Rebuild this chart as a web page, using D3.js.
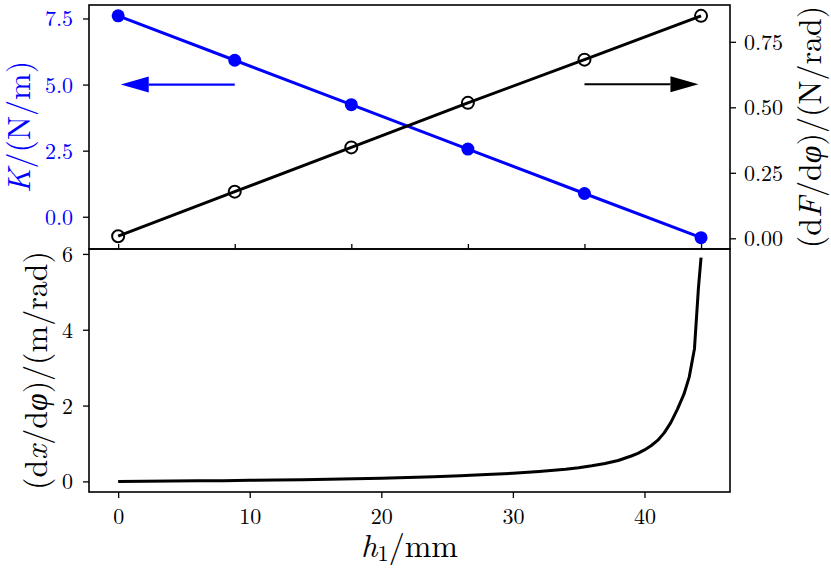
<!DOCTYPE html>
<html><head><meta charset="utf-8">
<script src="https://cdn.jsdelivr.net/npm/d3@7"></script>
<style>body{margin:0;background:#fff}svg{display:block}</style>
</head><body>
<svg id="c" width="831" height="573"></svg>
<script>
// ---- data ----
const hTop = [0, 8.86, 17.72, 26.58, 35.44, 44.3];
const kValues = [7.60, 5.92, 4.24, 2.56, 0.88, -0.79];
const dFdphi = [0.008, 0.178, 0.347, 0.517, 0.682, 0.849];
const hCurve = [0, 2, 4, 6, 8, 10, 12, 14, 16, 18, 20, 22, 24, 26, 28, 30, 32, 34, 35, 36, 37, 38, 38.5, 39, 39.5, 40, 40.5, 41, 41.5, 42, 42.5, 43, 43.4, 43.8, 44.1, 44.3];
const dxdphi = [0.00, 0.005, 0.01, 0.015, 0.02, 0.028, 0.036, 0.045, 0.055, 0.068, 0.085, 0.103, 0.125, 0.15, 0.18, 0.215, 0.26, 0.32, 0.36, 0.41, 0.47, 0.55, 0.61, 0.67, 0.74, 0.83, 0.94, 1.08, 1.28, 1.55, 1.9, 2.3, 2.75, 3.5, 5.1, 5.9];
const xTicks = [0, 10, 20, 30, 40];
const kTicks = [0.0, 2.5, 5.0, 7.5];
const fTicks = [0.00, 0.25, 0.50, 0.75];
const dxTicks = [0, 2, 4, 6];
const blueArrow = {from: 8.86, to: 0.2, k: 5.0};
const blackArrow = {from: 35.44, to: 44.1, f: 0.588};

const FONT = '"Latin Modern Roman","CMU Serif","Liberation Serif",serif';
const GREEK = '"Liberation Serif","DejaVu Serif",serif';
const BLUE = "#0000ff";
const svg = d3.select("#c");
const L = 89, R = 730, T1 = 5, B1 = 249, B2 = 492;

const x = d3.scaleLinear().domain([-2.215, 46.5]).range([L, R]);
const yK = d3.scaleLinear().domain([-1.22, 8.01]).range([B1, T1]);
const yF = d3.scaleLinear().domain([-0.0408, 0.8905]).range([B1, T1]);
const yD = d3.scaleLinear().domain([-0.28, 6.13]).range([B2, B1]);

function styleAxis(g, color) {
  g.attr("font-family", null).attr("font-size", null);
  g.select(".domain").remove();
  g.selectAll(".tick line").attr("stroke", "#000").attr("stroke-width", 1.3);
  g.selectAll(".tick text").attr("fill", color)
    .style("font-family", FONT).style("font-size", "22px");
}

// ---- top panel axes ----
const gK = svg.append("g").attr("transform", `translate(${L},0)`)
  .call(d3.axisLeft(yK).tickValues(kTicks).tickFormat(d3.format(".1f")).tickSize(6).tickPadding(10));
styleAxis(gK, BLUE);
gK.selectAll(".tick text").attr("dy", "0.34em");

const gF = svg.append("g").attr("transform", `translate(${R},0)`)
  .call(d3.axisRight(yF).tickValues(fTicks).tickFormat(d3.format(".2f")).tickSize(6).tickPadding(8));
styleAxis(gF, "#000");
gF.selectAll(".tick text").attr("dy", "0.34em");

const gTopX = svg.append("g").attr("transform", `translate(0,${B1})`)
  .call(d3.axisTop(x).tickValues(hTop).tickFormat("").tickSize(-5));
styleAxis(gTopX, "#000");
gTopX.selectAll(".tick line").attr("y2", -5);

// ---- bottom panel axes ----
const gD = svg.append("g").attr("transform", `translate(${L},0)`)
  .call(d3.axisLeft(yD).tickValues(dxTicks).tickFormat(d3.format("d")).tickSize(6).tickPadding(10));
styleAxis(gD, "#000");
gD.selectAll(".tick text").attr("dy", "0.34em");

const gX = svg.append("g").attr("transform", `translate(0,${B2})`)
  .call(d3.axisBottom(x).tickValues(xTicks).tickFormat(d3.format("d")).tickSize(6).tickPadding(10));
styleAxis(gX, "#000");
gX.selectAll(".tick text").attr("dy", "0.71em");

// ---- top panel marks ----
const lineK = d3.line().x((d, i) => x(hTop[i])).y(d => yK(d));
svg.append("path").attr("d", lineK(kValues)).attr("fill", "none").attr("stroke", BLUE).attr("stroke-width", 3);
svg.append("g").selectAll("circle").data(kValues).join("circle")
  .attr("cx", (d, i) => x(hTop[i])).attr("cy", d => yK(d)).attr("r", 6.5).attr("fill", BLUE);

function arrow(x0, x1, y, color) {
  const dir = Math.sign(x1 - x0), hl = 28, hw = 8;
  const xb = x1 - dir * hl;
  svg.append("line").attr("x1", x0).attr("x2", xb).attr("y1", y).attr("y2", y)
    .attr("stroke", color).attr("stroke-width", 2.2);
  svg.append("path").attr("d", `M${x1},${y}L${xb},${y - hw}L${xb},${y + hw}Z`).attr("fill", color);
}
arrow(x(blueArrow.from), x(blueArrow.to), yK(blueArrow.k), BLUE);

const lineF = d3.line().x((d, i) => x(hTop[i])).y(d => yF(d));
svg.append("path").attr("d", lineF(dFdphi)).attr("fill", "none").attr("stroke", "#000").attr("stroke-width", 3);
svg.append("g").selectAll("circle").data(dFdphi).join("circle")
  .attr("cx", (d, i) => x(hTop[i])).attr("cy", d => yF(d)).attr("r", 6)
  .attr("fill", "none").attr("stroke", "#000").attr("stroke-width", 2);
arrow(x(blackArrow.from), x(blackArrow.to), yF(blackArrow.f), "#000");

// ---- bottom curve ----
const lineD = d3.line().x((d, i) => x(hCurve[i])).y(d => yD(d));
svg.append("path").attr("d", lineD(dxdphi)).attr("fill", "none").attr("stroke", "#000")
  .attr("stroke-width", 3).attr("stroke-linejoin", "round");

// ---- frames ----
svg.append("rect").attr("x", L).attr("y", T1).attr("width", R - L).attr("height", B1 - T1)
  .attr("fill", "none").attr("stroke", "#000").attr("stroke-width", 1.6);
svg.append("rect").attr("x", L).attr("y", B1).attr("width", R - L).attr("height", B2 - B1)
  .attr("fill", "none").attr("stroke", "#000").attr("stroke-width", 1.6);

// ---- labels ----
function label(cx, cy, rot, parts, size, color) {
  const t = svg.append("text").attr("transform", `translate(${cx},${cy}) rotate(${rot})`)
    .attr("text-anchor", "middle").attr("fill", color)
    .style("font-family", FONT).style("font-size", size + "px");
  parts.forEach(p => {
    const s = t.append("tspan").text(p.t);
    if (p.i) s.style("font-style", "italic");
    if (p.g) s.style("font-family", GREEK);
    if (p.sub) s.style("font-size", (size * 0.7) + "px").attr("dy", "0.2em");
    if (p.up) s.attr("dy", "-0.14em");
  });
  return t;
}
label(30, (T1 + B1) / 2, -90, [{t: "K", i: 1}, {t: "/(N/m)"}], 32, BLUE);
label(821, (T1 + B1) / 2, -90, [{t: "(d"}, {t: "F", i: 1}, {t: "/d"}, {t: "φ", i: 1, g: 1}, {t: ")/(N/rad)"}], 32, "#000");
label(47, (B1 + B2) / 2, -90, [{t: "(d"}, {t: "x", i: 1}, {t: "/d"}, {t: "φ", i: 1, g: 1}, {t: ")/(m/rad)"}], 32, "#000");
label((L + R) / 2, 557, 0, [{t: "h", i: 1}, {t: "1", sub: 1}, {t: "/mm", up: 1}], 32, "#000");
</script>
</body></html>
